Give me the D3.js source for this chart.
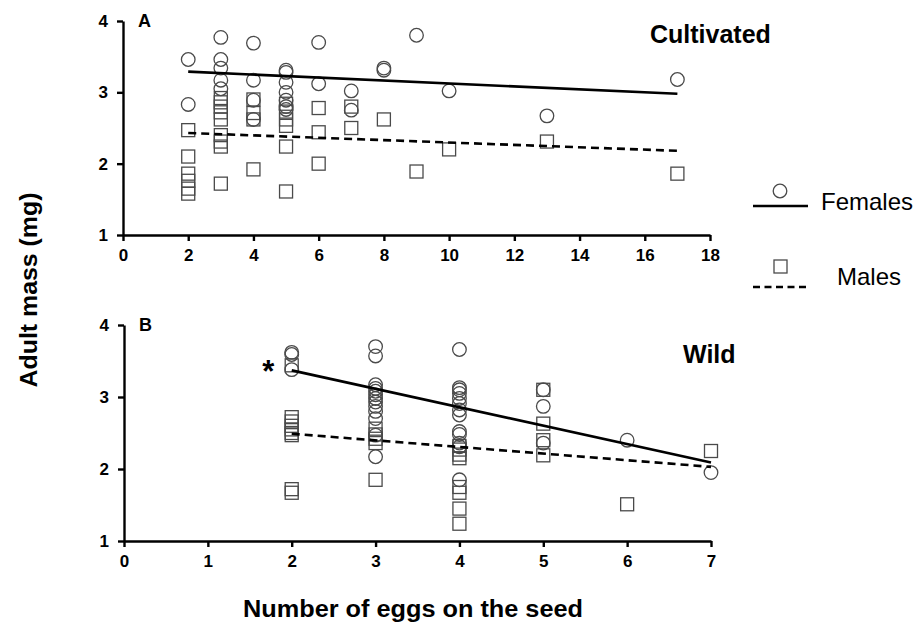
<!DOCTYPE html>
<html>
<head>
<meta charset="utf-8">
<script src="https://cdn.jsdelivr.net/npm/d3@7"></script>
<style>
  body { margin: 0; background: #fff; }
  svg { font-family: "Liberation Sans", Arial, sans-serif; }
  .axis path, .axis line { stroke: #000; stroke-width: 2.4; }
  .axis text { font-size: 17px; font-weight: bold; fill: #000; }
</style>
</head>
<body>
<svg id="chart" width="920" height="633"></svg>
<script>
// --- data ---
// Panel A: cultivated seeds
const cultivatedFemales = [
  [2, 3.46], [2, 2.83],
  [3, 3.77], [3, 3.46], [3, 3.34], [3, 3.17], [3, 3.05],
  [4, 3.69], [4, 3.17], [4, 2.89], [4, 2.62],
  [5, 3.31], [5, 3.28], [5, 3.14], [5, 3.00], [5, 2.89], [5, 2.80], [5, 2.76],
  [6, 3.70], [6, 3.12],
  [7, 3.02], [7, 2.75],
  [8, 3.34], [8, 3.31],
  [9, 3.80], [10, 3.02], [13, 2.67], [17, 3.18]
];
const cultivatedMales = [
  [2, 2.47], [2, 2.10], [2, 1.86], [2, 1.76], [2, 1.65], [2, 1.58],
  [3, 2.92], [3, 2.86], [3, 2.80], [3, 2.72], [3, 2.62], [3, 2.40], [3, 2.31], [3, 2.24], [3, 1.72],
  [4, 2.90], [4, 2.71], [4, 2.62], [4, 1.92],
  [5, 2.84], [5, 2.73], [5, 2.62], [5, 2.53], [5, 2.24], [5, 1.61],
  [6, 2.78], [6, 2.44], [6, 2.00],
  [7, 2.80], [7, 2.50],
  [8, 2.62], [9, 1.89], [10, 2.20], [13, 2.31], [17, 1.86]
];
const cultivatedFitF = [[2, 3.29], [17, 2.98]];
const cultivatedFitM = [[2, 2.43], [17, 2.18]];

// Panel B: wild seeds
const wildFemales = [
  [2, 3.62], [2, 3.59], [2, 3.38],
  [3, 3.70], [3, 3.57], [3, 3.17], [3, 3.12], [3, 3.08], [3, 3.03], [3, 2.98], [3, 2.93],
  [3, 2.87], [3, 2.80], [3, 2.70], [3, 2.47], [3, 2.17],
  [4, 3.66], [4, 3.13], [4, 3.10], [4, 3.05], [4, 2.98], [4, 2.91], [4, 2.82], [4, 2.75],
  [4, 2.52], [4, 2.48], [4, 2.36], [4, 2.31], [4, 1.85],
  [5, 3.10], [5, 2.87], [5, 2.36],
  [6, 2.40], [7, 1.95]
];
const wildMales = [
  [2, 3.44], [2, 2.72], [2, 2.66], [2, 2.60], [2, 2.55], [2, 2.50], [2, 2.47], [2, 1.72], [2, 1.67],
  [3, 2.56], [3, 2.48], [3, 2.42], [3, 2.36], [3, 1.85],
  [4, 2.32], [4, 2.27], [4, 2.20], [4, 2.15], [4, 1.75], [4, 1.67], [4, 1.45], [4, 1.24],
  [5, 3.10], [5, 2.63], [5, 2.40], [5, 2.19],
  [6, 1.51], [7, 2.25]
];
const wildFitF = [[2, 3.37], [7, 2.09]];
const wildFitM = [[2, 2.49], [7, 2.03]];
const wildStar = [1.72, 3.45];

const yTicks = [1, 2, 3, 4];
const xTicksA = [0, 2, 4, 6, 8, 10, 12, 14, 16, 18];
const xTicksB = [0, 1, 2, 3, 4, 5, 6, 7];

const svg = d3.select("#chart");
const markerStroke = "#4a4a4a";

function drawPanel(cfg) {
  const x = d3.scaleLinear().domain(cfg.xDomain).range([cfg.left, cfg.right]);
  const y = d3.scaleLinear().domain([1, 4]).range([cfg.bottom, cfg.top]);
  const g = svg.append("g");

  // markers: squares first, circles on top
  g.selectAll(".sq").data(cfg.males).enter().append("rect")
    .attr("x", d => x(d[0]) - 6.5).attr("y", d => y(d[1]) - 6.5)
    .attr("width", 13).attr("height", 13)
    .attr("fill", "none").attr("stroke", markerStroke).attr("stroke-width", 1.3);
  g.selectAll(".ci").data(cfg.females).enter().append("circle")
    .attr("cx", d => x(d[0])).attr("cy", d => y(d[1])).attr("r", 6.8)
    .attr("fill", "none").attr("stroke", markerStroke).attr("stroke-width", 1.3);

  const line = d3.line().x(d => x(d[0])).y(d => y(d[1]));
  g.append("path").datum(cfg.fitF).attr("d", line)
    .attr("stroke", "#000").attr("stroke-width", 2.6).attr("fill", "none");
  g.append("path").datum(cfg.fitM).attr("d", line)
    .attr("stroke", "#000").attr("stroke-width", 2.6).attr("fill", "none")
    .attr("stroke-dasharray", "8,5");

  const fmt = d3.format("d");
  g.append("g").attr("class", "axis")
    .attr("transform", `translate(0,${cfg.bottom})`)
    .call(d3.axisBottom(x).tickValues(cfg.xTicks).tickFormat(fmt).tickSize(6).tickSizeOuter(0).tickPadding(6))
    .call(a => a.selectAll("text").attr("dy", "0.85em"));
  g.append("g").attr("class", "axis")
    .attr("transform", `translate(${cfg.left},0)`)
    .call(d3.axisLeft(y).tickValues(yTicks).tickFormat(fmt).tickSize(6).tickSizeOuter(0).tickPadding(9));

  g.append("text").attr("x", cfg.left + 15).attr("y", cfg.top + 6)
    .attr("font-size", 18).attr("font-weight", "bold").text(cfg.letter);
  g.append("text").attr("x", cfg.titleX).attr("y", cfg.titleY)
    .attr("font-size", 25).attr("font-weight", "bold").text(cfg.title);
  return { x, y, g };
}

drawPanel({
  xDomain: [0, 18], left: 123, right: 710, top: 21, bottom: 235,
  females: cultivatedFemales, males: cultivatedMales,
  fitF: cultivatedFitF, fitM: cultivatedFitM, xTicks: xTicksA,
  letter: "A", title: "Cultivated", titleX: 650, titleY: 43
});

const pB = drawPanel({
  xDomain: [0, 7], left: 124, right: 711, top: 325, bottom: 541,
  females: wildFemales, males: wildMales,
  fitF: wildFitF, fitM: wildFitM, xTicks: xTicksB,
  letter: "B", title: "Wild", titleX: 683, titleY: 363
});
pB.g.append("text")
  .attr("x", pB.x(wildStar[0])).attr("y", pB.y(wildStar[1]) + 17)
  .attr("text-anchor", "middle").attr("font-size", 31).attr("font-weight", "bold").text("*");

// axis titles
svg.append("text")
  .attr("transform", "translate(37,290) rotate(-90)")
  .attr("text-anchor", "middle").attr("font-size", 23).attr("font-weight", "bold")
  .attr("textLength", 195).attr("lengthAdjust", "spacingAndGlyphs")
  .text("Adult mass (mg)");
svg.append("text")
  .attr("x", 413).attr("y", 617)
  .attr("text-anchor", "middle").attr("font-size", 23).attr("font-weight", "bold")
  .attr("textLength", 340).attr("lengthAdjust", "spacingAndGlyphs")
  .text("Number of eggs on the seed");

// legend
const legend = svg.append("g");
legend.append("circle").attr("cx", 780).attr("cy", 191).attr("r", 6.8)
  .attr("fill", "none").attr("stroke", markerStroke).attr("stroke-width", 1.3);
legend.append("line").attr("x1", 753).attr("x2", 808).attr("y1", 206).attr("y2", 206)
  .attr("stroke", "#000").attr("stroke-width", 2.6);
legend.append("text").attr("x", 821).attr("y", 210).attr("font-size", 24).text("Females");
legend.append("rect").attr("x", 774).attr("y", 260).attr("width", 13).attr("height", 13)
  .attr("fill", "none").attr("stroke", markerStroke).attr("stroke-width", 1.3);
legend.append("line").attr("x1", 753).attr("x2", 808).attr("y1", 287).attr("y2", 287)
  .attr("stroke", "#000").attr("stroke-width", 2.6).attr("stroke-dasharray", "7,4.5");
legend.append("text").attr("x", 837).attr("y", 285).attr("font-size", 24).text("Males");
</script>
</body>
</html>
